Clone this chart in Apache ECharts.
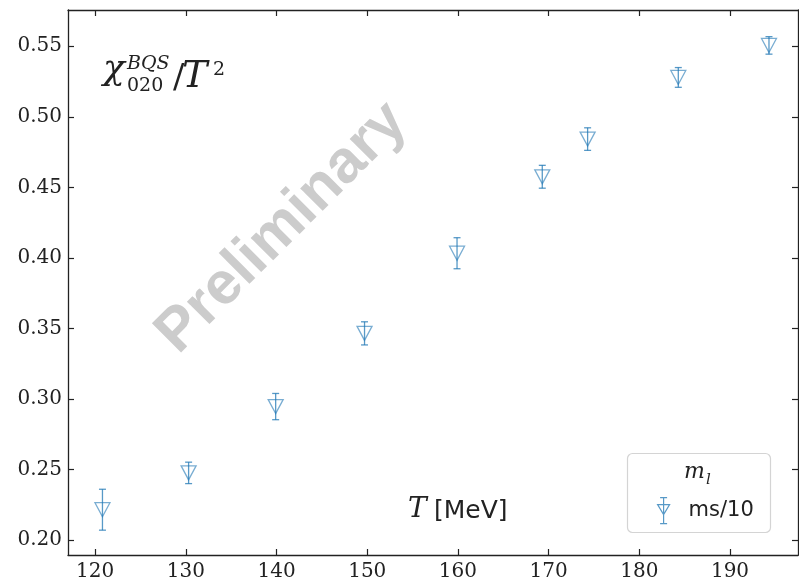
<!DOCTYPE html>
<html>
<head>
<meta charset="utf-8">
<script src="https://cdn.jsdelivr.net/npm/echarts@6/dist/echarts.min.js"></script>
<style>
  html, body { margin: 0; padding: 0; background: #fff; }
  #chart { width: 799px; height: 585px; }
</style>
</head>
<body>
<div id="chart"></div>
<script>
// Temperature points [MeV], susceptibility values and their errors
const temperatures = [120.8, 130.3, 139.9, 149.7, 159.9, 169.3, 174.3, 184.3, 194.3];
const chiValues    = [0.2215, 0.2476, 0.2946, 0.3465, 0.4033, 0.4575, 0.4842, 0.5279, 0.5506];
const chiErrors    = [0.0145, 0.0076, 0.0093, 0.0082, 0.0110, 0.0081, 0.0080, 0.0070, 0.0062];

const xTicks = [120, 130, 140, 150, 160, 170, 180, 190];
const yTicks = [0.20, 0.25, 0.30, 0.35, 0.40, 0.45, 0.50, 0.55];

const seriesName = 'ms/10';
const legendTitle = 'm';
const legendTitleSub = 'l';

const BLUE = 'rgba(31,119,180,0.75)';
const INK = '#222';
const SERIF = '"DejaVu Serif", "Liberation Serif", serif';
const SANS = '"DejaVu Sans", "Liberation Sans", sans-serif';

const points = temperatures.map((t, i) => [t, chiValues[i], chiErrors[i]]);

const X_MIN = 117.0, X_MAX = 197.5;
const Y_MIN = 0.1894, Y_MAX = 0.5757;

function frameAxis(extra) {
  return Object.assign({
    type: 'value',
    axisLine: { show: true, onZero: false, lineStyle: { color: INK, width: 1.3 } },
    splitLine: { show: false }
  }, extra);
}

const chart = echarts.init(document.getElementById('chart'), null, { renderer: 'canvas' });

chart.setOption({
  backgroundColor: '#fff',
  animation: false,
  grid: { left: 68, right: 1, top: 10, bottom: 30, containLabel: false },
  xAxis: [
    frameAxis({
      min: X_MIN, max: X_MAX, position: 'bottom',
      axisTick: { show: true, inside: true, length: 6, customValues: xTicks, lineStyle: { color: INK, width: 1.2 } },
      axisLabel: { show: true, customValues: xTicks, margin: 7, color: INK, fontFamily: SERIF, fontSize: 20 }
    }),
    frameAxis({
      min: X_MIN, max: X_MAX, position: 'top',
      axisTick: { show: true, inside: true, length: 6, customValues: xTicks, lineStyle: { color: INK, width: 1.2 } },
      axisLabel: { show: false }
    })
  ],
  yAxis: [
    frameAxis({
      min: Y_MIN, max: Y_MAX, position: 'left',
      axisTick: { show: true, inside: true, length: 6, customValues: yTicks, lineStyle: { color: INK, width: 1.2 } },
      axisLabel: {
        show: true, customValues: yTicks, margin: 6, color: INK, fontFamily: SERIF, fontSize: 20,
        formatter: v => v.toFixed(2)
      }
    }),
    frameAxis({
      min: Y_MIN, max: Y_MAX, position: 'right',
      axisTick: { show: true, inside: true, length: 6, customValues: yTicks, lineStyle: { color: INK, width: 1.2 } },
      axisLabel: { show: false }
    })
  ],
  legend: {
    data: [seriesName],
    left: 652, top: 492,
    itemWidth: 12, itemHeight: 26,
    icon: 'path://M0,7L12,7L6,17Z M6,0L6,26 M2.5,0L9.5,0 M2.5,26L9.5,26',
    itemStyle: { color: 'rgba(0,0,0,0)', borderColor: BLUE, borderWidth: 1.2 },
    textStyle: { color: INK, fontFamily: SANS, fontSize: 21, padding: [0, 0, 0, 14] },
    selectedMode: false
  },
  graphic: [
    // watermark
    {
      type: 'text', x: 282, y: 228, rotation: Math.PI / 4, z: 0,
      style: {
        text: 'Preliminary', fill: 'rgb(204,204,204)',
        font: 'bold 60px "Liberation Sans", Arial, sans-serif',
        align: 'center', verticalAlign: 'middle'
      }
    },
    // quantity label chi^{BQS}_{020}/T^2
    { type: 'text', x: 103, y: 88, z: 5, style: { text: 'χ', fill: INK, font: 'italic 36px ' + SERIF, verticalAlign: 'bottom' } },
    { type: 'text', x: 127, y: 74, z: 5, style: { text: 'BQS', fill: INK, font: 'italic 19px ' + SERIF, verticalAlign: 'bottom' } },
    { type: 'text', x: 127, y: 96, z: 5, style: { text: '020', fill: INK, font: '19px ' + SERIF, verticalAlign: 'bottom' } },
    { type: 'text', x: 173, y: 96, z: 5, style: { text: '/', fill: INK, font: '34px ' + SERIF, verticalAlign: 'bottom' } },
    { type: 'text', x: 182, y: 96, z: 5, style: { text: 'T', fill: INK, font: 'italic 38px ' + SERIF, verticalAlign: 'bottom' } },
    { type: 'text', x: 213, y: 80, z: 5, style: { text: '2', fill: INK, font: '19px ' + SERIF, verticalAlign: 'bottom' } },
    // axis quantity T[MeV]
    { type: 'text', x: 408, y: 524, z: 5, style: { text: 'T', fill: INK, font: 'italic 28px ' + SERIF, verticalAlign: 'bottom' } },
    { type: 'text', x: 434, y: 524, z: 5, style: { text: '[MeV]', fill: INK, font: '25px ' + SANS, verticalAlign: 'bottom' } },
    // legend frame and title
    { type: 'rect', z: 3, shape: { x: 627.5, y: 453.5, width: 143, height: 79, r: 5 },
      style: { fill: 'rgba(255,255,255,0.85)', stroke: '#d4d4d4', lineWidth: 1.2 } },
    { type: 'text', x: 684, y: 483, z: 5, style: { text: legendTitle, fill: INK, font: 'italic 22px ' + SERIF, verticalAlign: 'bottom' } },
    { type: 'text', x: 706, y: 488, z: 5, style: { text: legendTitleSub, fill: INK, font: 'italic 15px ' + SERIF, verticalAlign: 'bottom' } }
  ],
  series: [
    {
      name: seriesName,
      type: 'custom',
      xAxisIndex: 0, yAxisIndex: 0,
      data: points,
      z: 4,
      renderItem: function (params, api) {
        const x = api.value(0), y = api.value(1), e = api.value(2);
        const lo = api.coord([x, y - e]);
        const hi = api.coord([x, y + e]);
        const cap = 3.5;
        const style = { stroke: BLUE, lineWidth: 1.3 };
        return {
          type: 'group',
          children: [
            { type: 'line', shape: { x1: lo[0], y1: lo[1], x2: hi[0], y2: hi[1] }, style },
            { type: 'line', shape: { x1: lo[0] - cap, y1: lo[1], x2: lo[0] + cap, y2: lo[1] }, style },
            { type: 'line', shape: { x1: hi[0] - cap, y1: hi[1], x2: hi[0] + cap, y2: hi[1] }, style }
          ]
        };
      }
    },
    {
      name: seriesName,
      type: 'scatter',
      xAxisIndex: 0, yAxisIndex: 0,
      data: points.map(p => [p[0], p[1]]),
      symbol: 'triangle',
      symbolRotate: 180,
      symbolSize: [15, 14],
      z: 5,
      itemStyle: { color: 'rgba(0,0,0,0)', borderColor: BLUE, borderWidth: 1.3 }
    }
  ]
});
</script>
</body>
</html>
